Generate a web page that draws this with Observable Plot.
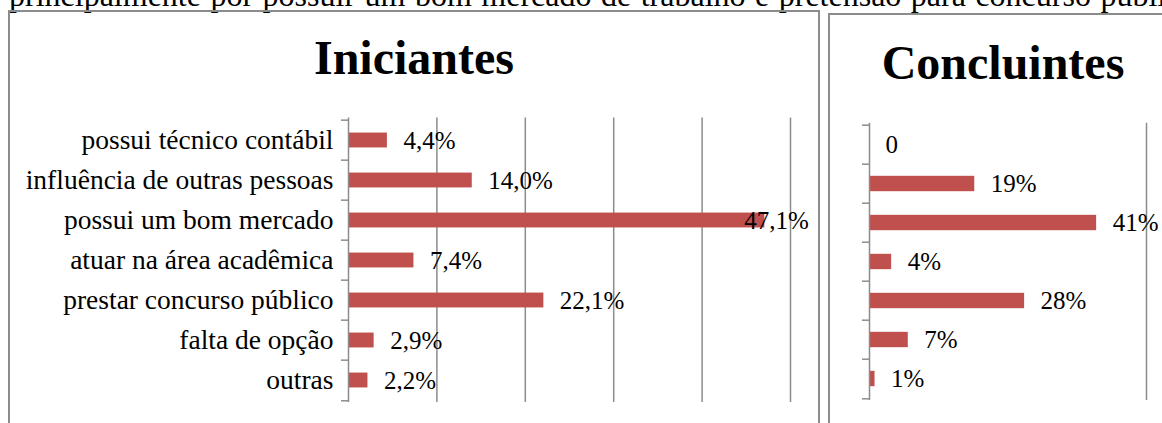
<!DOCTYPE html>
<html><head><meta charset="utf-8">
<script src="https://cdn.jsdelivr.net/npm/d3@7"></script>
<script src="https://cdn.jsdelivr.net/npm/@observablehq/plot@0.6"></script>
<style>
body{margin:0;background:#fff}
#page{position:relative;width:1162px;height:423px;overflow:hidden;background:#fff;font-family:"Liberation Serif","Times New Roman",serif;color:#000}
.abs{position:absolute}
.panel{position:absolute;border:2px solid #8c8c8c;box-sizing:border-box}
.title{position:absolute;width:400px;text-align:center;font-weight:bold;font-size:48px;line-height:48px;white-space:nowrap}
#intro{position:absolute;left:9px;top:-21px;font-size:32px;line-height:32px;white-space:nowrap;word-spacing:1.5px}
</style></head><body>
<div id="page">
<div id="intro">principalmente por possuir um bom mercado de trabalho e pretensão para concurso público</div>
<div class="panel" style="left:8px;top:10px;width:812px;height:500px"></div>
<div class="panel" style="left:828px;top:13px;width:400px;height:500px"></div>
<div class="title" style="left:214px;top:34px">Iniciantes</div>
<div class="title" style="left:803px;top:39px">Concluintes</div>
<div id="left" class="abs" style="left:0;top:100px"></div>
<div id="right" class="abs" style="left:830px;top:100px"></div>
</div>
<script>
const categories = [
  "possui técnico contábil",
  "influência de outras pessoas",
  "possui um bom mercado",
  "atuar na área acadêmica",
  "prestar concurso público",
  "falta de opção",
  "outras"
];
const iniciantes = [4.4, 14.0, 47.1, 7.4, 22.1, 2.9, 2.2];
const concluintes = [0, 19, 41, 4, 28, 7, 1];
const gridIniciantes = [10, 20, 30, 40, 50];
const gridConcluintes = [50];
const xMax = 50;

const fmtIniciantes = v => v.toFixed(1).replace(".", ",") + "%";
const fmtConcluintes = v => v === 0 ? "0" : v + "%";

function panel({values, grid, fmt, width, height, mL, mR, mT, mB, barH, showLabels, overflowAt, overflowDx}) {
  const rows = categories.map((c, i) => ({category: c, value: values[i]}));
  const step = (height - mT - mB) / categories.length;
  const inset = (step - barH) / 2;
  const gray = "#8c8c8c";
  const marks = [
    Plot.ruleX(grid, {stroke: gray, strokeWidth: 1.5}),
    Plot.barX(rows, {x: "value", y: "category", fill: "#c0504d", insetTop: inset, insetBottom: inset}),
    Plot.ruleX([0], {stroke: gray, strokeWidth: 1.5}),
    Plot.axisY({fill: "none", stroke: gray, strokeWidth: 1.5, tickSize: 7, dy: -step / 2, label: null}),
    Plot.axisY({ticks: [categories[categories.length - 1]], fill: "none", stroke: gray, strokeWidth: 1.5, tickSize: 7, dy: step / 2, label: null}),
    Plot.text(rows.filter(d => d.value < overflowAt), {x: "value", y: "category", text: d => fmt(d.value), textAnchor: "start", dx: 16, fontSize: 25, fill: "black"}),
    Plot.text(rows.filter(d => d.value >= overflowAt), {x: "value", y: "category", text: d => fmt(d.value), textAnchor: "end", dx: overflowDx, fontSize: 25, fill: "black"})
  ];
  if (showLabels) marks.push(Plot.axisY({tickSize: 0, tickPadding: 15, fontSize: 27.5, fill: "black", label: null}));
  return Plot.plot({
    width, height,
    marginLeft: mL, marginRight: mR, marginTop: mT, marginBottom: mB,
    x: {domain: [0, xMax], axis: null},
    y: {domain: categories, padding: 0},
    style: {background: "transparent", overflow: "visible", fontFamily: '"Liberation Serif","Times New Roman",serif', fontSize: "25px", color: "black"},
    marks
  });
}

document.getElementById("left").appendChild(panel({
  values: iniciantes, grid: gridIniciantes, fmt: fmtIniciantes,
  width: 818, height: 320, mL: 348, mR: 28, mT: 17.5, mB: 18, barH: 15.5,
  showLabels: true, overflowAt: 45, overflowDx: 44
}));
document.getElementById("right").appendChild(panel({
  values: concluintes, grid: gridConcluintes, fmt: fmtConcluintes,
  width: 332, height: 320, mL: 39, mR: 16, mT: 22.7, mB: 20, barH: 16,
  showLabels: false, overflowAt: 1000, overflowDx: 0
}));
</script>
</body></html>
